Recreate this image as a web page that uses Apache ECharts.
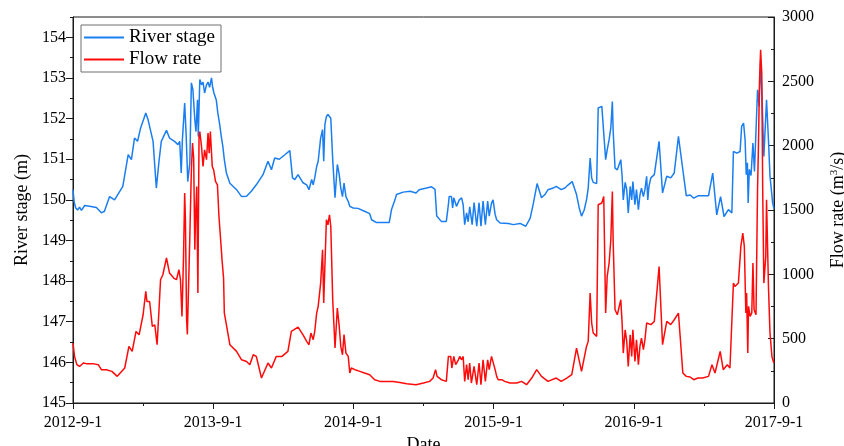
<!DOCTYPE html>
<html>
<head>
<meta charset="utf-8">
<script src="https://cdn.jsdelivr.net/npm/echarts@6/dist/echarts.min.js"></script>
<style>
  html, body { margin: 0; padding: 0; background: #fff; }
  #chart { width: 844px; height: 446px; }
</style>
</head>
<body>
<div id="chart"></div>
<script>
// River stage (m), daily record at the gauge
const stageDates = [
  '2012-09-01','2012-09-04','2012-09-08','2012-09-13','2012-09-18','2012-09-23','2012-10-01','2012-10-14',
  '2012-11-01','2012-11-14','2012-11-22','2012-12-05','2012-12-18','2013-01-09','2013-01-23','2013-02-01',
  '2013-02-09','2013-02-17','2013-02-25','2013-03-08','2013-03-14','2013-03-18','2013-03-27','2013-04-05',
  '2013-04-12','2013-04-18','2013-05-01','2013-05-09','2013-05-22','2013-05-31','2013-06-05','2013-06-09',
  '2013-06-12','2013-06-18','2013-06-22','2013-06-26','2013-07-01','2013-07-05','2013-07-09','2013-07-14',
  '2013-07-17','2013-07-21','2013-07-23','2013-07-27','2013-08-01','2013-08-05','2013-08-09','2013-08-14',
  '2013-08-18','2013-08-22','2013-08-27','2013-08-30','2013-09-03','2013-09-09','2013-09-13','2013-09-18',
  '2013-09-22','2013-09-26','2013-09-30','2013-10-05','2013-10-14','2013-11-01','2013-11-14','2013-11-27',
  '2013-12-09','2013-12-22','2014-01-09','2014-01-22','2014-01-31','2014-02-09','2014-02-21','2014-03-05',
  '2014-03-18','2014-03-25','2014-03-31','2014-04-09','2014-04-22','2014-05-01','2014-05-07','2014-05-14',
  '2014-05-18','2014-05-22','2014-05-27','2014-05-31','2014-06-07','2014-06-12','2014-06-15','2014-06-18',
  '2014-06-22','2014-06-26','2014-06-30','2014-07-03','2014-07-08','2014-07-14','2014-07-20','2014-07-25',
  '2014-07-29','2014-08-03','2014-08-07','2014-08-12','2014-08-18','2014-08-22','2014-08-31','2014-09-13',
  '2014-09-30','2014-10-13','2014-10-18','2014-10-31','2014-11-17','2014-12-03','2014-12-09','2014-12-18',
  '2014-12-22','2015-01-09','2015-01-27','2015-02-12','2015-02-20','2015-03-09','2015-03-22','2015-03-31',
  '2015-04-05','2015-04-17','2015-04-30','2015-05-05','2015-05-07','2015-05-13','2015-05-16','2015-05-19',
  '2015-05-26','2015-06-03','2015-06-09','2015-06-13','2015-06-17','2015-06-22','2015-06-26','2015-06-30',
  '2015-07-06','2015-07-11','2015-07-18','2015-07-24','2015-07-29','2015-08-04','2015-08-10','2015-08-16',
  '2015-08-20','2015-08-26','2015-08-30','2015-09-05','2015-09-09','2015-09-18','2015-10-09','2015-10-22',
  '2015-11-09','2015-11-24','2015-12-05','2015-12-13','2015-12-23','2016-01-04','2016-01-13','2016-01-21',
  '2016-02-04','2016-02-12','2016-02-25','2016-03-04','2016-03-13','2016-03-23','2016-04-04','2016-04-11',
  '2016-04-17','2016-04-24','2016-04-30','2016-05-04','2016-05-09','2016-05-13','2016-05-17','2016-05-26',
  '2016-05-30','2016-06-09','2016-06-14','2016-06-19','2016-06-23','2016-06-28','2016-07-02','2016-07-06',
  '2016-07-08','2016-07-13','2016-07-19','2016-07-24','2016-07-28','2016-08-01','2016-08-04','2016-08-09',
  '2016-08-13','2016-08-17','2016-08-22','2016-08-26','2016-08-29','2016-09-04','2016-09-08','2016-09-13',
  '2016-09-17','2016-09-21','2016-09-26','2016-09-30','2016-10-04','2016-10-07','2016-10-10','2016-10-15',
  '2016-10-24','2016-11-06','2016-11-15','2016-11-26','2016-12-06','2016-12-15','2016-12-26','2017-01-07',
  '2017-01-16','2017-01-26','2017-02-05','2017-02-16','2017-02-20','2017-03-13','2017-03-24','2017-04-04',
  '2017-04-14','2017-04-23','2017-05-04','2017-05-13','2017-05-17','2017-05-26','2017-06-04','2017-06-08',
  '2017-06-13','2017-06-17','2017-06-20','2017-06-23','2017-06-25','2017-06-28','2017-07-02','2017-07-07',
  '2017-07-11','2017-07-15','2017-07-19','2017-07-23','2017-07-27','2017-08-01','2017-08-05','2017-08-12',
  '2017-08-17','2017-08-21','2017-08-28','2017-09-01'
];
const stageValues = [
  150.25,149.95,149.80,149.75,149.82,149.74,149.86,149.84,
  149.81,149.68,149.72,150.08,150.00,150.33,151.11,150.99,
  151.52,151.44,151.77,152.14,151.97,151.95,151.44,150.29,
  150.95,151.44,151.71,151.52,151.44,151.36,151.44,150.66,
  151.47,152.38,151.56,150.45,150.91,152.88,152.71,151.97,
  151.68,152.46,151.56,152.96,152.83,152.90,152.63,152.83,
  152.90,152.77,153.00,152.77,152.63,152.46,152.14,151.85,
  151.56,151.32,150.99,150.66,150.41,150.25,150.08,150.09,
  150.21,150.37,150.62,150.95,150.74,151.03,151.00,151.11,
  151.21,150.54,150.50,150.62,150.42,150.37,150.25,150.50,
  150.37,150.54,150.82,150.95,151.52,151.73,150.95,151.85,
  152.05,152.10,152.14,152.01,150.99,150.05,150.87,150.62,
  150.29,150.08,150.41,150.08,149.96,149.84,149.80,149.79,
  149.72,149.66,149.51,149.44,149.44,149.44,149.76,150.00,
  150.13,150.19,150.21,150.17,150.25,150.29,150.32,150.26,
  149.60,149.47,149.47,149.88,150.08,150.08,149.80,150.05,
  149.84,150.00,150.05,149.88,149.39,149.68,149.46,149.83,
  149.39,149.93,149.35,149.93,149.35,149.97,149.39,149.97,
  149.60,149.92,150.00,149.64,149.51,149.43,149.42,149.39,
  149.42,149.35,149.55,149.90,150.40,150.05,150.13,150.25,
  150.29,150.33,150.25,150.29,150.37,150.45,150.13,149.80,
  149.60,149.75,150.00,150.29,151.03,150.54,150.43,150.40,
  152.26,152.30,152.34,150.99,151.23,151.48,151.77,152.42,
  151.72,150.78,150.74,150.78,150.99,150.58,150.00,150.43,
  150.25,149.68,150.33,150.00,150.45,149.88,150.25,149.76,
  150.12,150.29,150.08,150.25,150.58,150.00,150.33,150.54,
  150.62,151.44,150.17,150.58,150.54,150.66,151.56,150.74,
  150.10,150.12,150.04,150.10,150.10,150.10,150.66,149.63,
  150.08,149.59,149.76,149.68,151.19,151.15,151.19,151.81,
  151.89,151.48,150.62,150.91,149.92,150.75,150.60,151.40,
  150.70,150.66,152.71,152.30,153.45,152.30,151.07,152.46,
  151.48,150.58,149.92,149.78
];

// Flow rate (m3/s)
const flowDates = [
  '2012-09-01','2012-09-05','2012-09-11','2012-09-18','2012-09-22','2012-09-28','2012-10-05','2012-10-22',
  '2012-11-06','2012-11-14','2012-11-27','2012-12-11','2012-12-25','2013-01-14','2013-01-25','2013-02-03',
  '2013-02-13','2013-02-21','2013-03-01','2013-03-08','2013-03-11','2013-03-18','2013-03-25','2013-04-01',
  '2013-04-07','2013-04-12','2013-04-16','2013-04-22','2013-05-01','2013-05-09','2013-05-20','2013-05-27',
  '2013-06-03','2013-06-07','2013-06-11','2013-06-15','2013-06-18','2013-06-20','2013-06-23','2013-06-25',
  '2013-07-01','2013-07-05','2013-07-08','2013-07-11','2013-07-14','2013-07-16','2013-07-19','2013-07-22',
  '2013-07-25','2013-07-27','2013-08-01','2013-08-05','2013-08-09','2013-08-14','2013-08-18','2013-08-21',
  '2013-08-24','2013-08-29','2013-09-02','2013-09-07','2013-09-12','2013-09-16','2013-09-21','2013-09-24',
  '2013-09-28','2013-09-30','2013-10-14','2013-11-01','2013-11-14','2013-11-27','2013-12-05','2013-12-14',
  '2013-12-22','2014-01-05','2014-01-22','2014-01-31','2014-02-13','2014-02-28','2014-03-13','2014-03-22',
  '2014-04-09','2014-04-13','2014-04-22','2014-05-01','2014-05-07','2014-05-12','2014-05-18','2014-05-22',
  '2014-05-27','2014-05-31','2014-06-07','2014-06-12','2014-06-15','2014-06-18','2014-06-22','2014-06-26',
  '2014-06-30','2014-07-03','2014-07-08','2014-07-14','2014-07-20','2014-07-25','2014-07-29','2014-08-03',
  '2014-08-07','2014-08-12','2014-08-18','2014-08-22','2014-08-26','2014-09-05','2014-09-18','2014-09-30',
  '2014-10-13','2014-10-26','2014-11-09','2014-11-26','2014-12-13','2014-12-31','2015-01-18','2015-02-12',
  '2015-03-01','2015-03-17','2015-03-26','2015-04-02','2015-04-06','2015-04-17','2015-04-30','2015-05-05',
  '2015-05-11','2015-05-14','2015-05-19','2015-05-24','2015-05-31','2015-06-04','2015-06-09','2015-06-13',
  '2015-06-17','2015-06-22','2015-06-26','2015-06-30','2015-07-04','2015-07-11','2015-07-18','2015-07-24',
  '2015-07-29','2015-08-04','2015-08-10','2015-08-16','2015-08-20','2015-08-26','2015-08-30','2015-09-05',
  '2015-09-09','2015-09-13','2015-09-22','2015-09-30','2015-10-13','2015-10-31','2015-11-13','2015-11-26',
  '2015-12-09','2015-12-22','2016-01-04','2016-01-21','2016-02-12','2016-02-25','2016-03-09','2016-03-22',
  '2016-04-04','2016-04-17','2016-04-21','2016-04-30','2016-05-04','2016-05-09','2016-05-13','2016-05-17',
  '2016-05-21','2016-05-26','2016-05-30','2016-06-09','2016-06-14','2016-06-19','2016-06-23','2016-06-28',
  '2016-07-02','2016-07-06','2016-07-08','2016-07-13','2016-07-19','2016-07-24','2016-07-28','2016-08-01',
  '2016-08-04','2016-08-09','2016-08-13','2016-08-17','2016-08-22','2016-08-26','2016-08-29','2016-09-04',
  '2016-09-08','2016-09-13','2016-09-17','2016-09-21','2016-09-26','2016-09-30','2016-10-04','2016-10-15',
  '2016-10-24','2016-11-06','2016-11-15','2016-11-26','2016-12-06','2016-12-15','2016-12-26','2017-01-07',
  '2017-01-16','2017-01-26','2017-02-05','2017-02-16','2017-02-28','2017-03-13','2017-03-22','2017-03-30',
  '2017-04-13','2017-04-21','2017-05-01','2017-05-08','2017-05-13','2017-05-17','2017-05-21','2017-05-30',
  '2017-06-04','2017-06-06','2017-06-11','2017-06-15','2017-06-19','2017-06-21','2017-06-24','2017-06-26',
  '2017-06-30','2017-07-04','2017-07-07','2017-07-10','2017-07-15','2017-07-19','2017-07-21','2017-07-24',
  '2017-07-27','2017-07-30','2017-08-02','2017-08-05','2017-08-10','2017-08-12','2017-08-17','2017-08-21',
  '2017-08-26','2017-08-31'
];
const flowValues = [
  466,362,298,284,271,311,306,306,
  298,259,259,246,207,272,440,401,
  556,530,686,867,789,789,595,608,
  453,725,958,997,1127,1010,971,958,
  1036,958,673,1139,1632,1420,647,532,
  1295,1813,2020,1904,1191,1450,1683,855,
  2071,2110,1994,1838,1968,1891,2098,1942,
  2110,1838,1813,1722,1696,1450,1243,1113,
  971,700,453,401,336,323,298,375,
  362,194,311,272,362,362,401,556,
  590,583,530,479,453,544,492,556,
  699,751,932,1191,777,1061,1424,1385,
  1463,1372,803,427,738,595,440,375,
  531,388,362,233,272,259,246,233,
  220,181,168,168,168,160,150,142,
  155,168,194,259,207,181,168,362,
  362,272,362,298,336,362,336,362,
  168,298,181,311,155,285,142,311,
  142,336,168,336,259,362,362,259,
  207,181,181,168,155,155,168,142,
  194,259,207,168,194,168,194,220,
  427,246,240,440,479,855,621,544,
  557,518,1541,1554,1605,699,984,1088,
  1269,1644,1269,725,686,699,803,621,
  388,569,479,284,531,362,569,323,
  492,297,440,505,414,492,622,609,
  634,1061,453,634,609,647,699,233,
  207,202,181,194,194,207,298,233,
  401,259,298,272,272,932,906,932,
  932,1217,1321,1217,699,855,388,751,
  673,700,1088,725,686,1657,1943,2486,
  2745,2564,1657,932,1139,1580,906,544,
  362,311
];

// Tick labels on the date axis (one per year)
const yearLabels = ['2012-9-1', '2013-9-1', '2014-9-1', '2015-9-1', '2016-9-1', '2017-9-1'];

// Months elapsed since 2012-09-01
function monthsFromStart(s) {
  const p = s.split('-').map(Number);
  return (p[0] - 2012) * 12 + (p[1] - 9) + (p[2] - 1) / 30.44;
}

const stageSeries = stageDates.map((d, i) => [monthsFromStart(d), stageValues[i]]);
const flowSeries = flowDates.map((d, i) => [monthsFromStart(d), flowValues[i]]);

const FONT = '"Liberation Serif", "Times New Roman", serif';
const AXIS_COLOR = '#1a1a1a';

const chart = echarts.init(document.getElementById('chart'), null, { renderer: 'canvas' });

chart.setOption({
  backgroundColor: '#fff',
  animation: false,
  textStyle: { fontFamily: FONT },
  grid: {
    left: 73, right: 70, top: 17, bottom: 43,
    containLabel: false,
    outerBoundsMode: 'none',
    show: true, borderColor: AXIS_COLOR, borderWidth: 1, backgroundColor: 'transparent'
  },
  legend: {
    orient: 'vertical',
    left: 81, top: 25,
    padding: [3, 6, 3, 3],
    itemGap: 3,
    itemWidth: 40, itemHeight: 2,
    icon: 'rect',
    backgroundColor: '#fff',
    borderColor: '#6e6e6e', borderWidth: 1,
    textStyle: { fontFamily: FONT, fontSize: 19, color: '#000', padding: [0, 0, 0, 0] },
    data: ['River stage', 'Flow rate']
  },
  xAxis: {
    type: 'value',
    min: 0, max: 60, interval: 12,
    name: 'Date',
    nameLocation: 'middle',
    nameGap: 28,
    nameTextStyle: { fontFamily: FONT, fontSize: 18, color: '#000' },
    axisLine: { show: true, lineStyle: { color: AXIS_COLOR, width: 1 } },
    axisTick: { show: true, length: 6, inside: false, lineStyle: { color: AXIS_COLOR } },
    minorTick: { show: true, splitNumber: 2, length: 3, lineStyle: { color: AXIS_COLOR } },
    splitLine: { show: false },
    axisLabel: {
      fontFamily: FONT, fontSize: 16, color: '#000', margin: 12,
      formatter: v => yearLabels[Math.round(v / 12)] || ''
    }
  },
  yAxis: [
    {
      // river stage, half-metre short ticks with integer labels
      type: 'value',
      position: 'left',
      min: 145, max: 154.5, interval: 0.5,
      name: 'River stage (m)',
      nameLocation: 'middle',
      nameGap: 42,
      nameRotate: 90,
      nameTextStyle: { fontFamily: FONT, fontSize: 18, color: '#000' },
      axisLine: { show: true, lineStyle: { color: AXIS_COLOR, width: 1 } },
      axisTick: { show: true, length: 3, inside: false, lineStyle: { color: AXIS_COLOR } },
      splitLine: { show: false },
      axisLabel: {
        fontFamily: FONT, fontSize: 16, color: '#000', margin: 7,
        formatter: v => (Math.abs(v - Math.round(v)) < 1e-6 ? String(Math.round(v)) : '')
      }
    },
    {
      // flow rate
      type: 'value',
      position: 'right',
      min: 0, max: 3000, interval: 500,
      name: 'Flow rate (m{sup|3}/s)',
      nameLocation: 'middle',
      nameGap: 55,
      nameRotate: 90,
      nameTextStyle: {
        fontFamily: FONT, fontSize: 18, color: '#000',
        rich: { sup: { fontFamily: FONT, fontSize: 11, color: '#000', verticalAlign: 'top', padding: [0, 0, 8, 0] } }
      },
      axisLine: { show: true, lineStyle: { color: AXIS_COLOR, width: 1 } },
      axisTick: { show: true, length: 6, inside: true, lineStyle: { color: AXIS_COLOR } },
      minorTick: { show: true, splitNumber: 2, length: 3, lineStyle: { color: AXIS_COLOR } },
      splitLine: { show: false },
      axisLabel: { fontFamily: FONT, fontSize: 16, color: '#000', margin: 8, formatter: v => String(v) }
    },
    {
      // long ticks at whole metres on the stage axis
      type: 'value',
      position: 'left',
      min: 145, max: 154.5, interval: 1,
      axisLine: { show: false },
      axisTick: {
        show: true, length: 7, inside: false,
        customValues: [145, 146, 147, 148, 149, 150, 151, 152, 153, 154],
        lineStyle: { color: AXIS_COLOR }
      },
      axisLabel: { show: false },
      splitLine: { show: false }
    }
  ],
  series: [
    {
      name: 'River stage',
      type: 'line',
      yAxisIndex: 0,
      data: stageSeries,
      symbol: 'none',
      lineStyle: { color: '#1a7ef0', width: 1.5 },
      itemStyle: { color: '#1a7ef0' }
    },
    {
      name: 'Flow rate',
      type: 'line',
      yAxisIndex: 1,
      data: flowSeries,
      symbol: 'none',
      lineStyle: { color: '#ff0a0a', width: 1.5 },
      itemStyle: { color: '#ff0a0a' }
    }
  ]
});
</script>
</body>
</html>
